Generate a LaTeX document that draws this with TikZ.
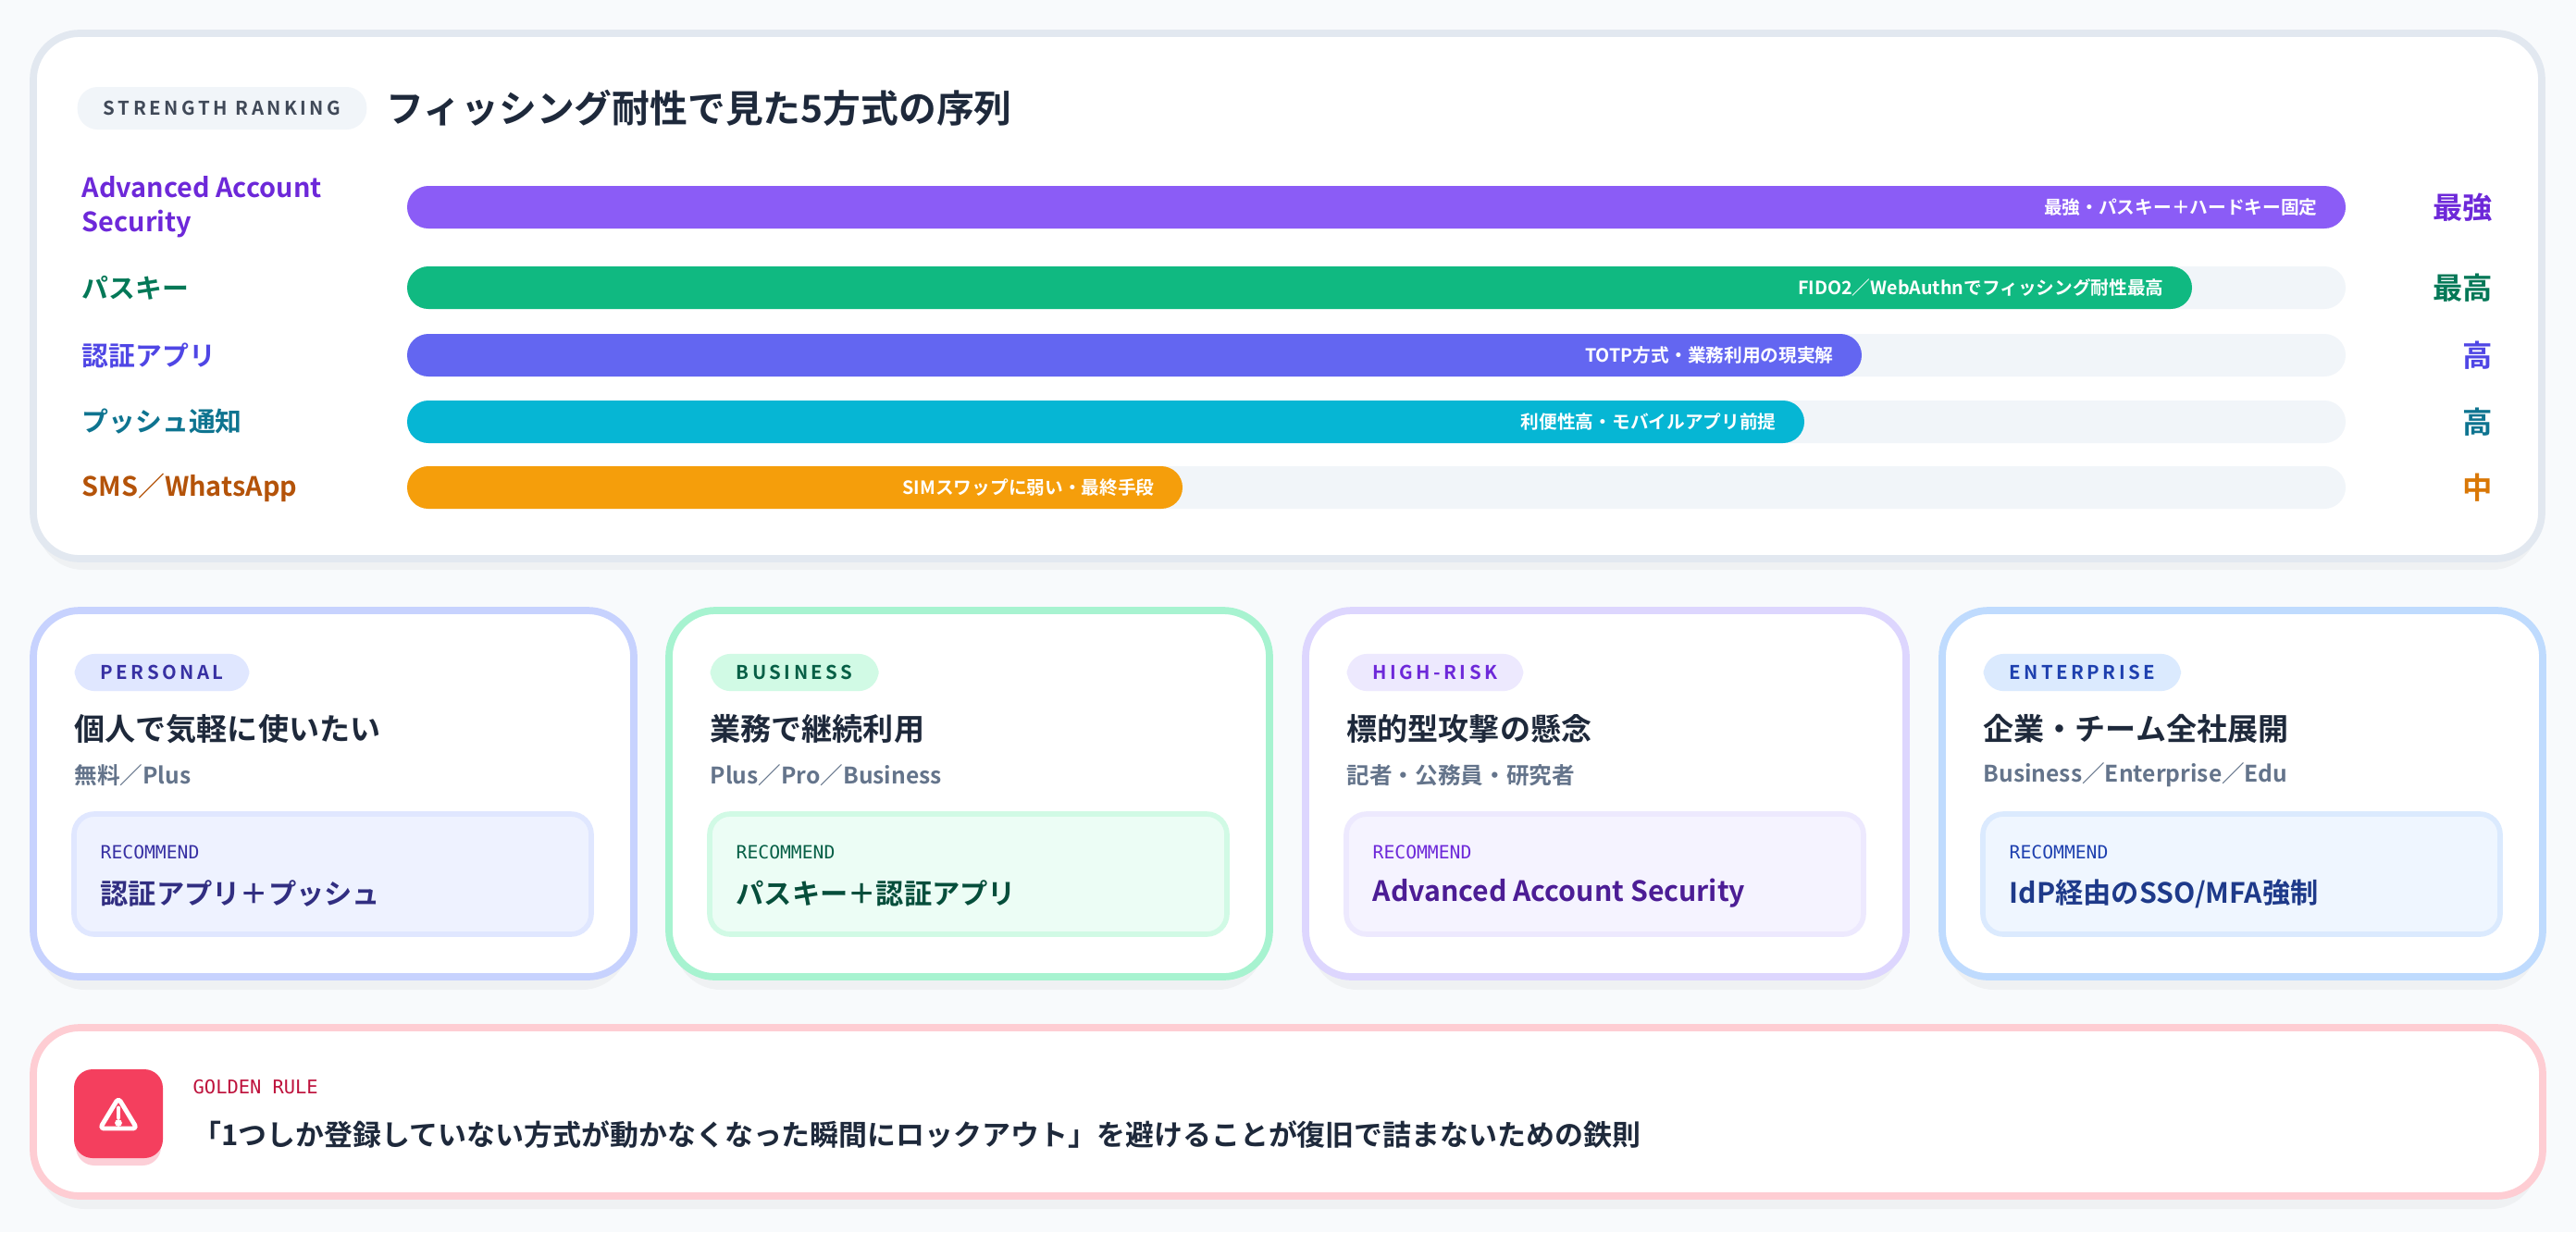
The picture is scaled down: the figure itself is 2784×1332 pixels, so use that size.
\documentclass[tikz,border=0pt]{standalone}
\usepackage{fontspec}
\setmainfont{Noto Sans CJK JP}[BoldFont={* Bold}]
\setmonofont{DejaVu Sans Mono}
\usepackage{tikz}
\usetikzlibrary{positioning, calc}

\definecolor{bgpage}{HTML}{F8FAFC}
\definecolor{track}{HTML}{F1F5F9}
\definecolor{ink}{HTML}{1E293B}
\definecolor{muted}{HTML}{64748B}
\definecolor{cardline}{HTML}{E2E8F0}
\definecolor{cAAS}{HTML}{8B5CF6}
\definecolor{cPK}{HTML}{10B981}
\definecolor{cAPP}{HTML}{6366F1}
\definecolor{cPUSH}{HTML}{06B6D4}
\definecolor{cSMS}{HTML}{F59E0B}
\definecolor{tAAS}{HTML}{6D28D9}
\definecolor{tPK}{HTML}{047857}
\definecolor{tAPP}{HTML}{4F46E5}
\definecolor{tPUSH}{HTML}{0E7490}
\definecolor{tSMS}{HTML}{B45309}
\definecolor{rSMS}{HTML}{D97706}
% card palettes
\definecolor{bPer}{HTML}{C7D2FE}\definecolor{gPer}{HTML}{E0E7FF}\definecolor{iPer}{HTML}{EEF2FF}\definecolor{kPer}{HTML}{3730A3}\definecolor{rPer}{HTML}{312E81}
\definecolor{bBus}{HTML}{A7F3D0}\definecolor{gBus}{HTML}{D1FAE5}\definecolor{iBus}{HTML}{ECFDF5}\definecolor{kBus}{HTML}{065F46}\definecolor{rBus}{HTML}{064E3B}
\definecolor{bHR}{HTML}{DDD6FE}\definecolor{gHR}{HTML}{EDE9FE}\definecolor{iHR}{HTML}{F5F3FF}\definecolor{kHR}{HTML}{6D28D9}\definecolor{rHR}{HTML}{4C1D95}
\definecolor{bEnt}{HTML}{BFDBFE}\definecolor{gEnt}{HTML}{DBEAFE}\definecolor{iEnt}{HTML}{EFF6FF}\definecolor{kEnt}{HTML}{1E40AF}\definecolor{rEnt}{HTML}{1E3A8A}
\definecolor{bGold}{HTML}{FECDD3}\definecolor{iconred}{HTML}{F43F5E}\definecolor{kGold}{HTML}{BE123C}

\tikzset{
  card/.style={fill=white, rounded corners=0.5cm, line width=2.2pt},
  cardshade/.style={fill=black, opacity=0.035, rounded corners=0.5cm},
  tagpill/.style={rounded corners=0.22cm, inner xsep=8pt, inner ysep=3.5pt, font=\bfseries\fontsize{5.8}{7}\selectfont},
  rowlabel/.style={anchor=west, inner sep=0pt, font=\bfseries\fontsize{8.2}{10.5}\selectfont, align=left},
  barlabel/.style={anchor=east, text=white, font=\bfseries\fontsize{5.6}{7}\selectfont},
  ranklabel/.style={anchor=east, inner sep=0pt, font=\bfseries\fontsize{9.2}{11}\selectfont},
  cardtext/.style={anchor=west, inner sep=0pt},
}

\begin{document}
\begin{tikzpicture}[x=0.01cm, y=-0.01cm]
\useasboundingbox[fill=bgpage] (0,0) rectangle (2784,1332);

% Ranking card
\fill[cardshade] (40,46) rectangle (2743,616);
\draw[card, draw=cardline] (36,36) rectangle (2747,604);
\node[tagpill, fill=track, text=ink!85, minimum height=0.46cm] (rankTag) at (240,117) {S\,T\,R\,E\,N\,G\,T\,H\ \ R\,A\,N\,K\,I\,N\,G};
\node[cardtext, text=ink, font=\bfseries\fontsize{11.6}{13}\selectfont] (rankTitle) at (417,117) {フィッシング耐性で見た5方式の序列};

% Bars: y / fill end / colour / left text / bar text / rank
\foreach \y/\e/\c/\t/\lab/\btxt/\rk/\rc [count=\i] in {
  224/2535/cAAS/tAAS/{Advanced Account\\Security}/{最強・パスキー＋ハードキー固定}/最強/tAAS,
  311/2369/cPK/tPK/{パスキー}/{FIDO2／WebAuthnでフィッシング耐性最高}/最高/tPK,
  384/2012/cAPP/tAPP/{認証アプリ}/{TOTP方式・業務利用の現実解}/高/tAPP,
  456/1950/cPUSH/tPUSH/{プッシュ通知}/{利便性高・モバイルアプリ前提}/高/tPUSH,
  527/1278/cSMS/tSMS/{SMS／WhatsApp}/{SIMスワップに弱い・最終手段}/中/rSMS} {
  \fill[track, rounded corners=0.23cm] (440,\y-23) rectangle (2535,\y+23);
  \fill[\c, rounded corners=0.23cm] (440,\y-23) rectangle (\e,\y+23);
  \node[rowlabel, text=\t] (row\i) at (88,\y) {\lab};
  \node[barlabel] (bar\i) at (\e-18,\y) {\btxt};
  \node[ranklabel, text=\rc] (rank\i) at (2695,\y) {\rk};
}

% Use-case cards
\foreach \x/\k/\tag/\ttl/\sub/\rec [count=\j] in {
  36/Per/P\,E\,R\,S\,O\,N\,A\,L/個人で気軽に使いたい/{無料／Plus}/{認証アプリ＋プッシュ},
  723/Bus/B\,U\,S\,I\,N\,E\,S\,S/業務で継続利用/{Plus／Pro／Business}/{パスキー＋認証アプリ},
  1411/HR/H\,I\,G\,H\,-\,R\,I\,S\,K/標的型攻撃の懸念/{記者・公務員・研究者}/{Advanced Account Security},
  2099/Ent/E\,N\,T\,E\,R\,P\,R\,I\,S\,E/企業・チーム全社展開/{Business／Enterprise／Edu}/{IdP経由のSSO/MFA強制}} {
  \fill[cardshade] (\x+6,672) rectangle (\x+643,1070);
  \draw[card, draw=b\k] (\x,660) rectangle (\x+649,1056);
  \node[tagpill, fill=g\k, text=k\k, anchor=west] (tag\j) at (\x+44,727) {\tag};
  \node[cardtext, text=ink, font=\bfseries\fontsize{9.4}{11}\selectfont] (ttl\j) at (\x+44,788) {\ttl};
  \node[cardtext, text=muted, font=\bfseries\fontsize{7}{8}\selectfont] (sub\j) at (\x+44,838) {\sub};
  \draw[fill=i\k, draw=g\k, line width=1.6pt, rounded corners=0.22cm] (\x+44,880) rectangle (\x+603,1010);
  \node[cardtext, text=k\k, font=\ttfamily\fontsize{5.6}{7}\selectfont] (recHead\j) at (\x+72,921) {RECOMMEND};
  \node[cardtext, text=r\k, font=\bfseries\fontsize{8.6}{10}\selectfont] (rec\j) at (\x+72,966) {\rec};
}

% Golden rule
\fill[cardshade] (42,1123) rectangle (2742,1307);
\draw[card, draw=bGold] (36,1111) rectangle (2748,1293);
\fill[iconred!25, rounded corners=0.2cm] (82,1163) rectangle (174,1260);
\fill[iconred, rounded corners=0.2cm] (80,1156) rectangle (176,1252);
\draw[white, line width=1.4pt, line join=round, rounded corners=1.2pt] (128,1187) -- (148,1220) -- (108,1220) -- cycle;
\draw[white, line width=1.4pt, line cap=round] (128,1198) -- (128,1208);
\fill[white] (128,1214) circle (1.1pt);
\node[cardtext, text=kGold, font=\ttfamily\fontsize{5.8}{7}\selectfont] (goldHead) at (208,1175) {GOLDEN RULE};
\node[cardtext, text=ink, font=\bfseries\fontsize{8.8}{10}\selectfont] (goldText) at (208,1227) {「1つしか登録していない方式が動かなくなった瞬間にロックアウト」を避けることが復旧で詰まないための鉄則};
\end{tikzpicture}
\end{document}
